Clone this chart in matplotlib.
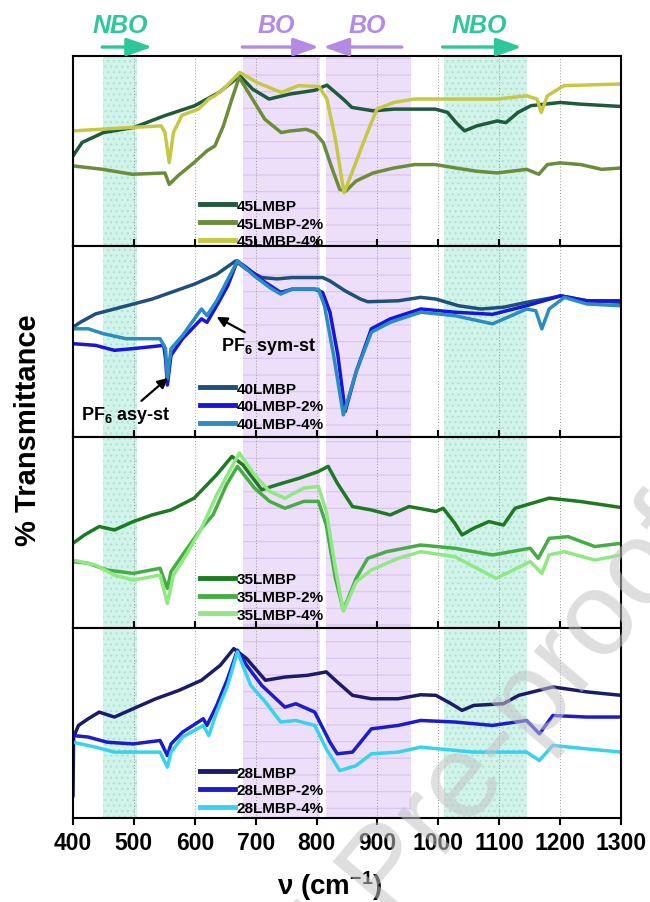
import numpy as np
import matplotlib.pyplot as plt

plt.rcParams['font.family'] = ['Liberation Sans', 'DejaVu Sans']
plt.rcParams['font.weight'] = 'bold'
plt.rcParams['mathtext.fontset'] = 'custom'
plt.rcParams['mathtext.rm'] = 'Liberation Sans:bold'
plt.rcParams['mathtext.bf'] = 'Liberation Sans:bold'
plt.rcParams['mathtext.default'] = 'bf'
plt.rcParams['hatch.linewidth'] = 0.8

# ---- data (transmittance in arbitrary units, each panel 0-100) ----
wn_45 = [400, 415, 450, 500, 550, 600, 640, 674, 695, 722, 756, 797, 817, 845, 858, 893, 927,
         961, 995, 1015, 1029, 1043, 1063, 1097, 1111, 1131, 1152, 1200, 1234, 1300]
t_45 = [47.5, 54.6, 59.8, 62.5, 68.6, 73.9, 80.9, 89.6, 82.6, 77.4, 80.0, 82.0, 84.7, 77.0, 73.0,
        71.2, 72.1, 72.1, 72.1, 70.4, 65.1, 60.7, 63.3, 65.9, 65.0, 70.4, 73.9, 75.6, 74.7, 73.5]

wn_45_2 = [400, 449, 497, 551, 558, 572, 599, 620, 633, 647, 661, 673, 688, 715, 742, 756, 783,
           797, 811, 824, 838, 848, 865, 893, 927, 961, 995, 1029, 1063, 1097, 1145, 1165, 1179,
           1200, 1234, 1268, 1300]
t_45_2 = [42.3, 40.5, 37.9, 38.6, 32.6, 37.0, 44.1, 50.2, 52.8, 63.3, 77.4, 88.8, 80.9, 66.8,
          59.8, 60.6, 61.5, 59.8, 54.6, 42.3, 30.0, 29.1, 34.4, 38.6, 41.2, 43.0, 43.0, 41.2,
          39.5, 38.6, 40.5, 37.9, 43.0, 43.9, 43.0, 40.5, 41.2]

wn_45_4 = [401, 449, 497, 545, 551, 558, 565, 579, 606, 623, 633, 647, 674, 702, 742, 770, 804,
           817, 831, 845, 858, 879, 899, 927, 961, 1029, 1097, 1145, 1162, 1169, 1179, 1206, 1300]
t_45_4 = [60.7, 61.6, 62.5, 63.3, 59.8, 44.0, 59.8, 68.9, 72.1, 77.4, 79.1, 82.6, 91.4, 86.1,
          80.9, 84.4, 84.0, 77.4, 56.3, 28.2, 38.6, 56.3, 72.1, 75.6, 77.4, 77.4, 77.4, 79.1,
          77.4, 70.4, 79.1, 84.4, 85.3]

wn_40 = [400, 412, 437, 468, 499, 530, 561, 599, 636, 667, 685, 710, 735, 760, 810, 822, 847,
         872, 884, 934, 971, 996, 1033, 1070, 1107, 1145, 1182, 1201, 1244, 1300]
t_40 = [57.6, 60.2, 64.6, 67.2, 69.8, 72.4, 75.9, 80.2, 85.4, 92.4, 88.0, 83.7, 83.0, 83.7,
        83.7, 81.9, 76.7, 72.4, 71.0, 71.5, 73.3, 72.4, 68.9, 67.2, 68.1, 70.7, 72.8, 74.1,
        71.5, 70.7]

wn_40_2 = [400, 437, 468, 499, 549, 552, 555, 561, 580, 611, 620, 636, 654, 670, 685, 716, 741,
           760, 797, 810, 822, 835, 847, 865, 890, 921, 971, 1027, 1089, 1145, 1201, 1244, 1300]
t_40_2 = [49.0, 48.1, 45.5, 46.4, 48.1, 41.1, 27.3, 42.9, 51.6, 62.0, 60.2, 68.9, 79.3, 92.4,
          88.9, 81.1, 75.9, 77.6, 77.6, 75.9, 65.5, 42.9, 13.4, 34.2, 56.8, 62.0, 67.2, 65.5,
          64.4, 68.9, 74.1, 71.5, 71.5]

wn_40_4 = [400, 425, 450, 487, 543, 552, 555, 561, 580, 611, 620, 636, 670, 698, 723, 741, 760,
           803, 813, 828, 844, 865, 890, 921, 971, 1027, 1089, 1145, 1160, 1170, 1182, 1207,
           1244, 1300]
t_40_4 = [56.8, 56.8, 54.2, 51.6, 51.6, 46.4, 30.7, 46.4, 53.3, 67.2, 63.7, 71.5, 92.4, 84.5,
          78.5, 75.0, 77.6, 77.6, 68.9, 42.9, 11.6, 34.2, 55.0, 60.2, 65.5, 63.7, 59.4, 67.2,
          66.3, 56.8, 67.2, 73.3, 69.8, 68.9]

wn_35 = [400, 419, 443, 468, 499, 530, 561, 599, 636, 661, 679, 710, 735, 772, 803, 819, 834,
         859, 890, 921, 952, 996, 1008, 1027, 1039, 1058, 1083, 1107, 1126, 1182, 1232, 1300]
t_35 = [44.2, 48.6, 53.0, 51.2, 55.6, 59.1, 61.7, 67.9, 80.2, 89.8, 85.4, 72.3, 74.9, 78.4,
        81.9, 84.6, 75.8, 63.5, 61.7, 59.1, 63.5, 60.9, 62.6, 54.7, 48.6, 52.1, 55.6, 53.8,
        62.6, 67.9, 66.2, 63.0]

wn_35_2 = [400, 425, 456, 499, 543, 555, 561, 580, 611, 630, 652, 670, 698, 723, 748, 779, 803,
           816, 831, 844, 865, 884, 915, 971, 1027, 1089, 1151, 1164, 1182, 1213, 1257, 1300]
t_35_2 = [34.6, 33.7, 30.2, 28.4, 31.1, 20.5, 29.3, 38.1, 52.1, 59.1, 74.9, 84.6, 73.2, 66.2,
          62.6, 66.2, 66.2, 53.8, 25.8, 9.1, 25.8, 36.3, 39.8, 43.3, 41.6, 38.1, 41.6, 36.3,
          46.8, 47.7, 42.5, 44.2]

wn_35_4 = [400, 437, 468, 499, 543, 555, 565, 586, 611, 636, 673, 698, 723, 748, 779, 803, 816,
           831, 844, 865, 890, 934, 971, 1027, 1095, 1151, 1170, 1182, 1207, 1257, 1300]
t_35_4 = [35.4, 32.8, 27.5, 24.9, 27.5, 12.6, 27.5, 38.1, 52.1, 69.6, 91.6, 80.2, 71.4, 67.9,
          73.2, 74.0, 60.9, 31.1, 8.6, 24.0, 30.2, 36.3, 39.8, 37.2, 25.8, 34.6, 28.4, 38.1,
          39.8, 35.4, 38.1]

wn_28 = [400, 401, 409, 425, 443, 468, 499, 536, 574, 611, 642, 664, 685, 716, 748, 785, 816,
         834, 859, 890, 934, 971, 996, 1021, 1039, 1058, 1107, 1132, 1188, 1244, 1300]
t_28 = [11.7, 42.5, 48.6, 52.1, 55.6, 53.0, 57.4, 62.6, 67.0, 72.3, 80.2, 88.9, 83.7, 72.3,
        74.0, 74.9, 76.7, 71.4, 64.4, 62.6, 62.6, 64.7, 64.4, 60.0, 56.5, 59.1, 60.0, 64.4,
        68.8, 66.2, 64.4]

wn_28_2 = [400, 425, 456, 499, 543, 555, 561, 580, 614, 620, 636, 654, 670, 685, 710, 748, 766,
           797, 822, 834, 859, 890, 934, 971, 1027, 1089, 1145, 1166, 1188, 1244, 1300]
t_28_2 = [43.3, 42.5, 39.8, 38.9, 40.7, 32.8, 38.9, 45.1, 52.1, 48.6, 59.1, 73.2, 88.1, 80.2,
          69.6, 58.2, 60.0, 55.6, 39.8, 33.7, 34.6, 46.8, 48.6, 51.2, 50.4, 48.6, 51.2, 44.2,
          53.8, 53.0, 53.0]

wn_28_4 = [400, 437, 468, 543, 555, 561, 580, 614, 623, 636, 654, 670, 692, 716, 741, 766, 797,
           816, 838, 865, 890, 934, 971, 1058, 1145, 1166, 1188, 1244, 1300]
t_28_4 = [39.8, 37.2, 34.6, 34.6, 26.7, 34.6, 42.5, 48.6, 43.3, 55.6, 69.6, 87.2, 69.6, 60.9,
          50.4, 51.2, 48.6, 36.3, 24.9, 27.5, 33.7, 34.6, 37.2, 34.6, 34.6, 30.2, 38.1, 36.3,
          34.6]

panels = [
    [('45LMBP', wn_45, t_45, '#1f5a3c'), ('45LMBP-2%', wn_45_2, t_45_2, '#6b8d3a'),
     ('45LMBP-4%', wn_45_4, t_45_4, '#c6c745')],
    [('40LMBP', wn_40, t_40, '#1f4f7b'), ('40LMBP-2%', wn_40_2, t_40_2, '#1616dc'),
     ('40LMBP-4%', wn_40_4, t_40_4, '#2b8cc2')],
    [('35LMBP', wn_35, t_35, '#1b7a22'), ('35LMBP-2%', wn_35_2, t_35_2, '#46ad46'),
     ('35LMBP-4%', wn_35_4, t_35_4, '#8fe882')],
    [('28LMBP', wn_28, t_28, '#1b1b6a'), ('28LMBP-2%', wn_28_2, t_28_2, '#1c1ccc'),
     ('28LMBP-4%', wn_28_4, t_28_4, '#35d3ee')],
]
legend_y = [-0.01, 0.03, 0.03, 0.015]

nbo_bands = [(450, 505), (1010, 1145)]
bo_bands = [(680, 805), (815, 955)]
nbo_color = '#2cc79b'
bo_color = '#b58ae4'

fig = plt.figure(figsize=(6.5, 9.03), dpi=100)
axes = fig.subplots(4, 1, sharex=True)
fig.subplots_adjust(left=0.1123, right=0.9554, top=0.9369, bottom=0.093, hspace=0)

for i, ax in enumerate(axes):
    for a, b in nbo_bands:
        ax.axvspan(a, b, facecolor='#d2f3ea', edgecolor='#ace2d3', hatch='...', lw=0, zorder=0.5)
    for a, b in bo_bands:
        ax.axvspan(a, b, facecolor='#eddff9', edgecolor='#d8c3ee', hatch='-', lw=0, zorder=0.5)
    ax.grid(axis='x', linestyle=(0, (1, 2)), color='#9a9a9a', lw=0.7, zorder=0.8)
    handles = []
    for label, wn, t, c in panels[i]:
        h, = ax.plot(wn, t, color=c, lw=2.5, label=label, zorder=2, solid_joinstyle='round')
        handles.append(h)
    leg = ax.legend(handles=handles, loc='lower left', bbox_to_anchor=(0.232, legend_y[i]),
                    frameon=False, prop={'size': 11, 'weight': 'bold'}, handlelength=2.3,
                    handletextpad=0.1, labelspacing=0.25, borderpad=0, borderaxespad=0)
    for lh in leg.legend_handles:
        lh.set_linewidth(3.5)
    ax.set_xlim(400, 1300)
    ax.set_ylim(0, 100)
    ax.set_yticks([])
    for s in ax.spines.values():
        s.set_linewidth(1.5)
    ax.set_xticks(np.arange(400, 1301, 100))
    if i < 3:
        ax.tick_params(axis='x', direction='in', length=5, width=1.5, labelbottom=False)
    else:
        ax.tick_params(axis='x', direction='out', length=5, width=1.5, pad=4, labelsize=16.5)

# PF6 annotations
ap = dict(arrowstyle='-|>', color='black', lw=1.6, mutation_scale=15, shrinkA=0, shrinkB=0)
axes[1].annotate('PF$_6$ sym-st', xy=(636, 63), xytext=(722, 48), fontsize=13,
                 ha='center', va='center', arrowprops=ap)
axes[1].annotate('PF$_6$ asy-st', xy=(556, 31), xytext=(487, 12), fontsize=13,
                 ha='center', va='center', arrowprops=ap)

# NBO / BO markers above top panel
top = axes[0]
arrows = [(448, 530, nbo_color), (678, 804, bo_color), (940, 811, bo_color), (1007, 1137, nbo_color)]
for x0, x1, c in arrows:
    top.annotate('', xy=(x1, 1.047), xytext=(x0, 1.047), xycoords=('data', 'axes fraction'),
                 annotation_clip=False,
                 arrowprops=dict(arrowstyle='-|>,head_length=0.85,head_width=0.3', color=c,
                                 lw=2.4, mutation_scale=18, shrinkA=0, shrinkB=0))
labels = [(478, 'NBO', nbo_color), (734, 'BO', bo_color), (884, 'BO', bo_color), (1068, 'NBO', nbo_color)]
for x, s, c in labels:
    top.text(x, 1.165, s, transform=top.get_xaxis_transform(), ha='center', va='center',
             fontsize=18, fontstyle='italic', fontweight='bold', color=c, clip_on=False)

fig.text(0.043, 0.524, '% Transmittance', rotation=90, fontsize=21, ha='center', va='center')
fig.text(0.508, 0.019, 'ν (cm$^{-1}$)', fontsize=20, ha='center', va='center')

# journal watermark
fig.text(0.6, 0.032, 'Journal Pre-proof', rotation=50, fontsize=86, fontweight='normal',
         color='#c4c4c4', alpha=0.55, ha='center', va='center', rotation_mode='anchor', zorder=10)

fig.savefig('out.png', dpi=100)
